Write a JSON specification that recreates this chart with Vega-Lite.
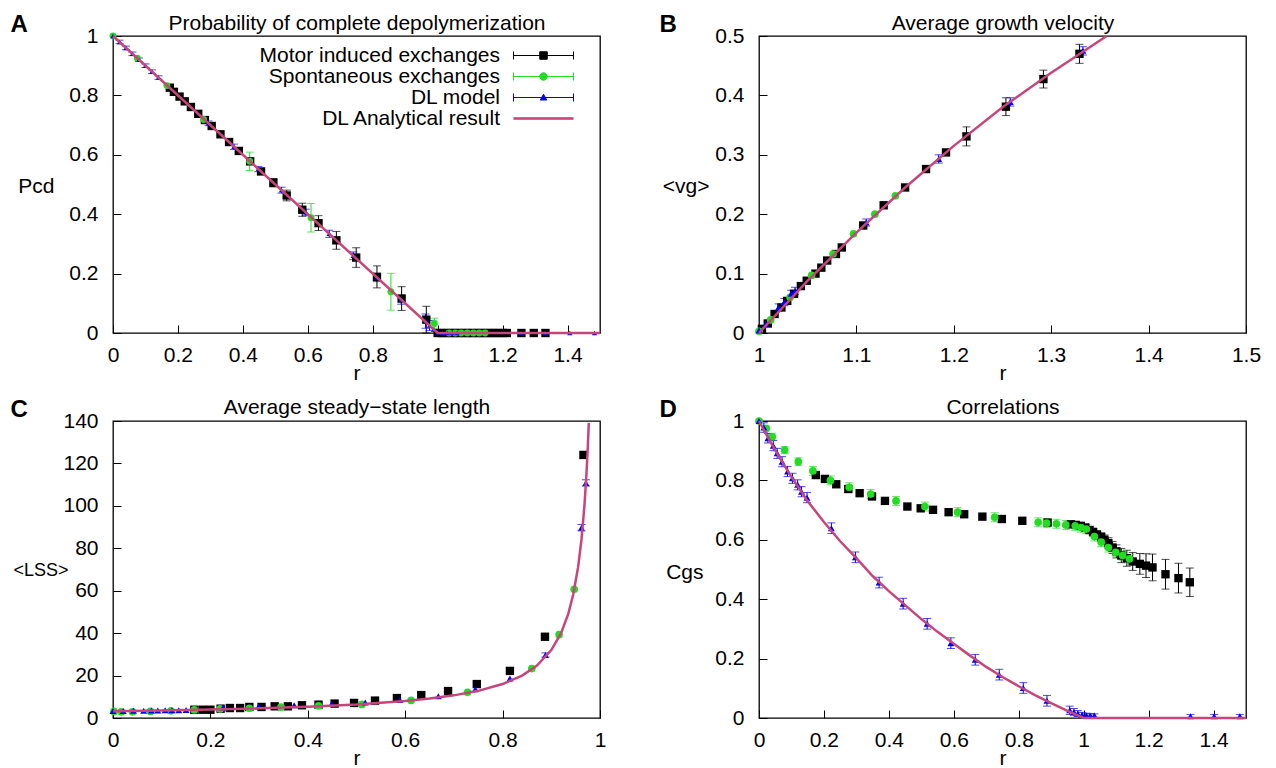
{
 "$schema": "https://vega.github.io/schema/vega-lite/v6.json",
 "padding": {"left": 9, "top": 11, "right": 5, "bottom": 5},
 "background": "white",
 "columns": 2,
 "spacing": {"row": 88, "column": 159},
 "bounds": "flush",
 "resolve": {"scale": {"color": "independent", "shape": "independent", "size": "independent", "fill": "independent", "stroke": "independent", "strokeWidth": "independent", "x": "independent", "y": "independent"}, "legend": {"color": "independent", "shape": "independent", "size": "independent", "fill": "independent", "stroke": "independent", "strokeWidth": "independent"}},
 "datasets": {
  "A": [
   {"s":"M","r":0.175,"v":0.826},{"s":"M","r":0.1875,"v":0.812},{"s":"M","r":0.205,"v":0.796},{"s":"M","r":0.221,"v":0.78},{"s":"M","r":0.24,"v":0.761},{"s":"M","r":0.2625,"v":0.738},{"s":"M","r":0.283,"v":0.717},{"s":"M","r":0.304,"v":0.697},{"s":"M","r":0.331,"v":0.669},{"s":"M","r":0.3575,"v":0.643},{"s":"M","r":0.3875,"v":0.613},{"s":"M","r":0.4225,"v":0.578},
   {"s":"M","r":0.456,"v":0.544,"lo":0.536,"hi":0.552},{"s":"M","r":0.494,"v":0.506,"lo":0.492,"hi":0.52},{"s":"M","r":0.535,"v":0.463,"lo":0.445,"hi":0.481},{"s":"M","r":0.583,"v":0.415,"lo":0.393,"hi":0.437},{"s":"M","r":0.633,"v":0.37,"lo":0.345,"hi":0.395},{"s":"M","r":0.688,"v":0.312,"lo":0.282,"hi":0.342},{"s":"M","r":0.749,"v":0.254,"lo":0.221,"hi":0.287},{"s":"M","r":0.813,"v":0.189,"lo":0.152,"hi":0.226},{"s":"M","r":0.889,"v":0.116,"lo":0.076,"hi":0.156},{"s":"M","r":0.965,"v":0.045,"lo":0.0,"hi":0.09},
   {"s":"M","r":1.0,"v":0},{"s":"M","r":1.013,"v":0},{"s":"M","r":1.026,"v":0},{"s":"M","r":1.04,"v":0},{"s":"M","r":1.053,"v":0},{"s":"M","r":1.066,"v":0},{"s":"M","r":1.08,"v":0},{"s":"M","r":1.093,"v":0},{"s":"M","r":1.106,"v":0},{"s":"M","r":1.12,"v":0},{"s":"M","r":1.133,"v":0},{"s":"M","r":1.146,"v":0},{"s":"M","r":1.16,"v":0},{"s":"M","r":1.173,"v":0},{"s":"M","r":1.186,"v":0},{"s":"M","r":1.2,"v":0},{"s":"M","r":1.213,"v":0},{"s":"M","r":1.258,"v":0},{"s":"M","r":1.296,"v":0},{"s":"M","r":1.332,"v":0},
   {"s":"S","r":0,"v":1},{"s":"S","r":0.075,"v":0.925},{"s":"S","r":0.166,"v":0.833},{"s":"S","r":0.279,"v":0.719},{"s":"S","r":0.421,"v":0.578,"lo":0.547,"hi":0.609},{"s":"S","r":0.61,"v":0.388,"lo":0.34,"hi":0.436},{"s":"S","r":0.856,"v":0.139,"lo":0.077,"hi":0.201},{"s":"S","r":0.99,"v":0.032,"lo":0.014,"hi":0.05},
   {"s":"S","r":1.035,"v":0},{"s":"S","r":1.054,"v":0},{"s":"S","r":1.072,"v":0},{"s":"S","r":1.091,"v":0},{"s":"S","r":1.11,"v":0},{"s":"S","r":1.128,"v":0},{"s":"S","r":1.146,"v":0},
   {"s":"D","r":0,"v":1},{"s":"D","r":0.02,"v":0.98,"lo":0.974,"hi":0.986},{"s":"D","r":0.04,"v":0.96,"lo":0.954,"hi":0.966},{"s":"D","r":0.06,"v":0.94,"lo":0.934,"hi":0.946},{"s":"D","r":0.08,"v":0.92,"lo":0.914,"hi":0.926},{"s":"D","r":0.1,"v":0.9,"lo":0.894,"hi":0.906},{"s":"D","r":0.12,"v":0.88,"lo":0.874,"hi":0.886},{"s":"D","r":0.14,"v":0.86,"lo":0.854,"hi":0.866},
   {"s":"D","r":0.294,"v":0.706,"lo":0.698,"hi":0.714},{"s":"D","r":0.3725,"v":0.627,"lo":0.618,"hi":0.636},{"s":"D","r":0.4475,"v":0.552,"lo":0.543,"hi":0.561},{"s":"D","r":0.519,"v":0.481,"lo":0.471,"hi":0.491},{"s":"D","r":0.594,"v":0.406,"lo":0.395,"hi":0.417},{"s":"D","r":0.666,"v":0.334,"lo":0.322,"hi":0.346},{"s":"D","r":0.74,"v":0.26,"lo":0.247,"hi":0.273},{"s":"D","r":0.8125,"v":0.187,"lo":0.173,"hi":0.201},{"s":"D","r":0.8875,"v":0.112,"lo":0.097,"hi":0.127},{"s":"D","r":0.9625,"v":0.04,"lo":0.016,"hi":0.064},{"s":"D","r":0.975,"v":0.025,"lo":0.008,"hi":0.042},{"s":"D","r":0.9875,"v":0.012},{"s":"D","r":1.0,"v":0.003},
   {"s":"D","r":1.015,"v":0},{"s":"D","r":1.03,"v":0},{"s":"D","r":1.045,"v":0},{"s":"D","r":1.06,"v":0},{"s":"D","r":1.258,"v":0},{"s":"D","r":1.332,"v":0},{"s":"D","r":1.407,"v":0},{"s":"D","r":1.483,"v":0}
  ],
  "Aline": [{"r":0,"v":1},{"r":1,"v":0},{"r":1.5,"v":0}],
  "B": [
   {"s":"M","r":1.003,"v":0.007},{"s":"M","r":1.009,"v":0.016},{"s":"M","r":1.016,"v":0.032},{"s":"M","r":1.023,"v":0.043},{"s":"M","r":1.029,"v":0.054},{"s":"M","r":1.036,"v":0.066},{"s":"M","r":1.043,"v":0.079},{"s":"M","r":1.049,"v":0.088},{"s":"M","r":1.058,"v":0.1},{"s":"M","r":1.064,"v":0.11},{"s":"M","r":1.07,"v":0.122},{"s":"M","r":1.079,"v":0.133},{"s":"M","r":1.085,"v":0.144},{"s":"M","r":1.107,"v":0.181},{"s":"M","r":1.128,"v":0.215},{"s":"M","r":1.15,"v":0.245},{"s":"M","r":1.1715,"v":0.276},{"s":"M","r":1.192,"v":0.304},
   {"s":"M","r":1.213,"v":0.331,"lo":0.315,"hi":0.347},{"s":"M","r":1.2535,"v":0.381,"lo":0.366,"hi":0.396},{"s":"M","r":1.292,"v":0.4275,"lo":0.4125,"hi":0.4425},{"s":"M","r":1.329,"v":0.47,"lo":0.454,"hi":0.486},
   {"s":"S","r":1.0,"v":0.003},{"s":"S","r":1.012,"v":0.022},{"s":"S","r":1.032,"v":0.06},{"s":"S","r":1.054,"v":0.097},{"s":"S","r":1.076,"v":0.133},{"s":"S","r":1.097,"v":0.167},{"s":"S","r":1.119,"v":0.2},{"s":"S","r":1.14,"v":0.231},
   {"s":"D","r":1.0,"v":0.004},{"s":"D","r":1.007,"v":0.015},{"s":"D","r":1.02,"v":0.043,"lo":0.037,"hi":0.049},{"s":"D","r":1.026,"v":0.052,"lo":0.046,"hi":0.058},{"s":"D","r":1.033,"v":0.066,"lo":0.06,"hi":0.072},{"s":"D","r":1.037,"v":0.071,"lo":0.065,"hi":0.077},{"s":"D","r":1.11,"v":0.186,"lo":0.18,"hi":0.192},{"s":"D","r":1.1845,"v":0.293,"lo":0.286,"hi":0.3},{"s":"D","r":1.258,"v":0.389,"lo":0.382,"hi":0.396},{"s":"D","r":1.3326,"v":0.475,"lo":0.468,"hi":0.482}
  ],
  "Bline": [{"r":1,"v":0},{"r":1.05,"v":0.088},{"r":1.1,"v":0.169},{"r":1.15,"v":0.245},{"r":1.2,"v":0.315},{"r":1.25,"v":0.38},{"r":1.3,"v":0.438},{"r":1.357,"v":0.5}],
  "C": [
   {"s":"M","r":0.167,"v":3.9},{"s":"M","r":0.184,"v":3.9},{"s":"M","r":0.2,"v":3.9},{"s":"M","r":0.221,"v":4.4},{"s":"M","r":0.24,"v":4.7},{"s":"M","r":0.261,"v":4.7},{"s":"M","r":0.28,"v":5.2},{"s":"M","r":0.305,"v":5.2},{"s":"M","r":0.332,"v":5.5},{"s":"M","r":0.359,"v":5.5},{"s":"M","r":0.388,"v":6.0},{"s":"M","r":0.422,"v":6.3},{"s":"M","r":0.455,"v":6.8},{"s":"M","r":0.495,"v":7.1},{"s":"M","r":0.538,"v":8.2},{"s":"M","r":0.583,"v":9.4},{"s":"M","r":0.633,"v":10.8},{"s":"M","r":0.688,"v":12.7},{"s":"M","r":0.747,"v":16},{"s":"M","r":0.815,"v":22.2},{"s":"M","r":0.887,"v":38.3},{"s":"M","r":0.966,"v":124},
   {"s":"S","r":0.002,"v":3.1},{"s":"S","r":0.017,"v":2.9},{"s":"S","r":0.04,"v":2.9},{"s":"S","r":0.077,"v":3.1},{"s":"S","r":0.119,"v":3.4},{"s":"S","r":0.167,"v":3.8},{"s":"S","r":0.22,"v":4.3},{"s":"S","r":0.28,"v":4.6},{"s":"S","r":0.345,"v":5.1},{"s":"S","r":0.422,"v":5.7},{"s":"S","r":0.511,"v":6.4},{"s":"S","r":0.612,"v":8.3},{"s":"S","r":0.728,"v":12.1},{"s":"S","r":0.86,"v":23.3},{"s":"S","r":0.916,"v":39.3},{"s":"S","r":0.947,"v":60.7},
   {"s":"D","r":0,"v":3.3},{"s":"D","r":0.021,"v":3.3},{"s":"D","r":0.042,"v":3.4},{"s":"D","r":0.063,"v":3.4},{"s":"D","r":0.079,"v":3.5},{"s":"D","r":0.092,"v":3.5},{"s":"D","r":0.107,"v":3.6},{"s":"D","r":0.121,"v":3.6},{"s":"D","r":0.135,"v":3.7},{"s":"D","r":0.15,"v":3.8},
   {"s":"D","r":0.226,"v":4.9},{"s":"D","r":0.299,"v":5.4},{"s":"D","r":0.372,"v":6.0},{"s":"D","r":0.449,"v":6.6},{"s":"D","r":0.518,"v":7.3},{"s":"D","r":0.589,"v":8.5},{"s":"D","r":0.668,"v":10.3},{"s":"D","r":0.744,"v":13.5},{"s":"D","r":0.815,"v":18.6},{"s":"D","r":0.888,"v":29.7,"lo":28.7,"hi":30.7},{"s":"D","r":0.962,"v":89.7,"lo":88.2,"hi":91.2},{"s":"D","r":0.971,"v":110.8,"lo":109.3,"hi":112.3}
  ],
  "Cline": [{"r":0,"v":3.2},{"r":0.1,"v":3.56},{"r":0.2,"v":4.0},{"r":0.3,"v":4.57},{"r":0.4,"v":5.33},{"r":0.5,"v":6.4},{"r":0.6,"v":8.0},{"r":0.65,"v":9.14},{"r":0.7,"v":10.67},{"r":0.75,"v":12.8},{"r":0.8,"v":16.0},{"r":0.84,"v":20},{"r":0.87,"v":24.6},{"r":0.9,"v":32},{"r":0.92,"v":40},{"r":0.935,"v":49.2},{"r":0.945,"v":58.2},{"r":0.955,"v":71.1},{"r":0.962,"v":84.2},{"r":0.968,"v":100},{"r":0.972,"v":114.3},{"r":0.975,"v":128},{"r":0.977,"v":139.1}],
  "D": [
   {"s":"M","r":0.175,"v":0.818},{"s":"M","r":0.203,"v":0.805},{"s":"M","r":0.238,"v":0.787},{"s":"M","r":0.275,"v":0.771},{"s":"M","r":0.31,"v":0.757},{"s":"M","r":0.348,"v":0.746},{"s":"M","r":0.388,"v":0.731},{"s":"M","r":0.457,"v":0.712},{"s":"M","r":0.498,"v":0.706},{"s":"M","r":0.536,"v":0.701},{"s":"M","r":0.584,"v":0.693},{"s":"M","r":0.632,"v":0.686},{"s":"M","r":0.688,"v":0.678},{"s":"M","r":0.748,"v":0.67},{"s":"M","r":0.811,"v":0.664},{"s":"M","r":0.889,"v":0.658},
   {"s":"M","r":0.961,"v":0.652,"lo":0.642,"hi":0.662},{"s":"M","r":0.976,"v":0.65,"lo":0.64,"hi":0.66},{"s":"M","r":0.991,"v":0.647,"lo":0.637,"hi":0.657},{"s":"M","r":1.005,"v":0.641,"lo":0.629,"hi":0.653},{"s":"M","r":1.018,"v":0.633,"lo":0.621,"hi":0.645},{"s":"M","r":1.029,"v":0.626,"lo":0.613,"hi":0.639},{"s":"M","r":1.041,"v":0.617,"lo":0.603,"hi":0.631},{"s":"M","r":1.054,"v":0.609,"lo":0.594,"hi":0.624},{"s":"M","r":1.064,"v":0.6,"lo":0.584,"hi":0.616},{"s":"M","r":1.076,"v":0.589,"lo":0.571,"hi":0.607},{"s":"M","r":1.089,"v":0.574,"lo":0.554,"hi":0.594},{"s":"M","r":1.101,"v":0.561,"lo":0.539,"hi":0.583},{"s":"M","r":1.116,"v":0.547,"lo":0.523,"hi":0.571},{"s":"M","r":1.133,"v":0.538,"lo":0.511,"hi":0.565},{"s":"M","r":1.151,"v":0.527,"lo":0.497,"hi":0.557},{"s":"M","r":1.173,"v":0.519,"lo":0.484,"hi":0.554},{"s":"M","r":1.192,"v":0.513,"lo":0.473,"hi":0.553},{"s":"M","r":1.212,"v":0.507,"lo":0.462,"hi":0.552},{"s":"M","r":1.252,"v":0.484,"lo":0.434,"hi":0.534},{"s":"M","r":1.292,"v":0.471,"lo":0.421,"hi":0.521},{"s":"M","r":1.327,"v":0.457,"lo":0.409,"hi":0.505},
   {"s":"S","r":0,"v":1.0},{"s":"S","r":0.0225,"v":0.975},{"s":"S","r":0.041,"v":0.947,"lo":0.935,"hi":0.959},{"s":"S","r":0.079,"v":0.902,"lo":0.89,"hi":0.914},{"s":"S","r":0.121,"v":0.863,"lo":0.85,"hi":0.876},{"s":"S","r":0.166,"v":0.832,"lo":0.817,"hi":0.847},{"s":"S","r":0.22,"v":0.8,"lo":0.785,"hi":0.815},{"s":"S","r":0.278,"v":0.777,"lo":0.762,"hi":0.792},{"s":"S","r":0.344,"v":0.754,"lo":0.739,"hi":0.769},{"s":"S","r":0.422,"v":0.731,"lo":0.716,"hi":0.746},{"s":"S","r":0.511,"v":0.712,"lo":0.697,"hi":0.727},{"s":"S","r":0.612,"v":0.693,"lo":0.678,"hi":0.708},{"s":"S","r":0.726,"v":0.676,"lo":0.661,"hi":0.691},{"s":"S","r":0.86,"v":0.659,"lo":0.644,"hi":0.674},{"s":"S","r":0.886,"v":0.656,"lo":0.641,"hi":0.671},{"s":"S","r":0.916,"v":0.654,"lo":0.639,"hi":0.669},{"s":"S","r":0.945,"v":0.65,"lo":0.635,"hi":0.665},{"s":"S","r":0.974,"v":0.647,"lo":0.632,"hi":0.662},{"s":"S","r":0.992,"v":0.641,"lo":0.626,"hi":0.656},{"s":"S","r":1.008,"v":0.636,"lo":0.621,"hi":0.651},{"s":"S","r":1.033,"v":0.611,"lo":0.596,"hi":0.626},{"s":"S","r":1.054,"v":0.592,"lo":0.577,"hi":0.607},{"s":"S","r":1.076,"v":0.574,"lo":0.559,"hi":0.589},{"s":"S","r":1.099,"v":0.558,"lo":0.543,"hi":0.573},{"s":"S","r":1.12,"v":0.547,"lo":0.532,"hi":0.562},{"s":"S","r":1.141,"v":0.536,"lo":0.521,"hi":0.551},
   {"s":"D","r":0,"v":1.0},{"s":"D","r":0.015,"v":0.978,"lo":0.962,"hi":0.994},{"s":"D","r":0.0275,"v":0.942,"lo":0.926,"hi":0.958},{"s":"D","r":0.044,"v":0.917,"lo":0.9,"hi":0.934},{"s":"D","r":0.056,"v":0.891,"lo":0.874,"hi":0.908},{"s":"D","r":0.071,"v":0.863,"lo":0.846,"hi":0.88},{"s":"D","r":0.088,"v":0.83,"lo":0.813,"hi":0.847},{"s":"D","r":0.103,"v":0.807,"lo":0.79,"hi":0.824},{"s":"D","r":0.119,"v":0.785,"lo":0.768,"hi":0.802},{"s":"D","r":0.131,"v":0.762,"lo":0.745,"hi":0.779},{"s":"D","r":0.148,"v":0.742,"lo":0.725,"hi":0.759},
   {"s":"D","r":0.223,"v":0.639,"lo":0.621,"hi":0.657},{"s":"D","r":0.297,"v":0.541,"lo":0.523,"hi":0.559},{"s":"D","r":0.37,"v":0.456,"lo":0.438,"hi":0.474},{"s":"D","r":0.444,"v":0.385,"lo":0.367,"hi":0.403},{"s":"D","r":0.518,"v":0.317,"lo":0.299,"hi":0.335},{"s":"D","r":0.591,"v":0.252,"lo":0.234,"hi":0.27},{"s":"D","r":0.666,"v":0.196,"lo":0.178,"hi":0.214},{"s":"D","r":0.74,"v":0.146,"lo":0.128,"hi":0.164},{"s":"D","r":0.814,"v":0.101,"lo":0.083,"hi":0.119},{"s":"D","r":0.887,"v":0.058,"lo":0.04,"hi":0.076},{"s":"D","r":0.957,"v":0.026,"lo":0.012,"hi":0.04},{"s":"D","r":0.97,"v":0.02,"lo":0.008,"hi":0.032},{"s":"D","r":0.982,"v":0.015,"lo":0.005,"hi":0.025},{"s":"D","r":0.995,"v":0.011,"lo":0.003,"hi":0.019},{"s":"D","r":1.008,"v":0.009,"lo":0.002,"hi":0.016},{"s":"D","r":1.02,"v":0.008,"lo":0.002,"hi":0.014},{"s":"D","r":1.033,"v":0.008,"lo":0.002,"hi":0.014},{"s":"D","r":1.329,"v":0.006,"lo":0.0,"hi":0.012},{"s":"D","r":1.402,"v":0.006,"lo":0.0,"hi":0.012},{"s":"D","r":1.481,"v":0.006,"lo":0.0,"hi":0.012}
  ],
  "Dline": [{"r":0,"v":1},{"r":0.025,"v":0.95},{"r":0.05,"v":0.902},{"r":0.075,"v":0.856},{"r":0.1,"v":0.812},{"r":0.15,"v":0.73},{"r":0.2,"v":0.66},{"r":0.25,"v":0.595},{"r":0.3,"v":0.538},{"r":0.35,"v":0.478},{"r":0.4,"v":0.427},{"r":0.45,"v":0.38},{"r":0.5,"v":0.333},{"r":0.55,"v":0.29},{"r":0.6,"v":0.25},{"r":0.65,"v":0.21},{"r":0.7,"v":0.172},{"r":0.75,"v":0.138},{"r":0.8,"v":0.107},{"r":0.85,"v":0.077},{"r":0.9,"v":0.05},{"r":0.95,"v":0.024},{"r":1.0,"v":0},{"r":1.5,"v":0}]
 },
 "concat": [
  {
   "width": 487, "height": 297,
   "layer": [
    {"data": {"name": "A"}, "transform": [{"filter": "isValid(datum.lo)"}],
     "mark": {"type": "rule", "strokeWidth": 1},
     "encoding": {
      "x": {"field": "r", "type": "quantitative", "scale": {"domain": [0, 1.5], "nice": false, "zero": false}, "axis": {"orient": "bottom", "values": [0, 0.2, 0.4, 0.6, 0.8, 1, 1.2, 1.4], "format": "~g", "title": "r", "titlePadding": -3, "labelPadding": 19}},
      "y": {"field": "lo", "type": "quantitative", "scale": {"domain": [0, 1], "nice": false, "zero": false}, "axis": {"orient": "left", "values": [0, 0.2, 0.4, 0.6, 0.8, 1], "format": "~g", "title": "Pcd", "titleAngle": 0, "titleAlign": "right", "titleBaseline": "middle", "titleX": -59, "titleY": 150, "labelPadding": 23}},
      "y2": {"field": "hi"},
      "color": {"field": "s", "type": "nominal", "scale": {"domain": ["M", "S", "D"], "range": ["#000000", "#22dd22", "#0000ff"]}, "legend": null}
     }},
    {"data": {"name": "A"}, "transform": [{"filter": "isValid(datum.lo)"}, {"fold": ["lo", "hi"], "as": ["b", "e"]}],
     "mark": {"type": "tick", "orient": "horizontal", "size": 8, "thickness": 1},
     "encoding": {
      "x": {"field": "r", "type": "quantitative", "scale": {"domain": [0, 1.5], "nice": false, "zero": false}, "axis": {"orient": "top", "labels": false, "ticks": false, "domain": false, "title": "Probability of complete depolymerization", "titleY": -7, "titleAlign": "center", "titleBaseline": "alphabetic"}},
      "y": {"field": "e", "type": "quantitative", "scale": {"domain": [0, 1], "nice": false, "zero": false}},
      "color": {"field": "s", "type": "nominal", "scale": {"domain": ["M", "S", "D"], "range": ["#000000", "#22dd22", "#0000ff"]}, "legend": null}
     }},
    {"data": {"name": "A"}, "transform": [{"filter": "datum.s==='M'"}],
     "mark": {"type": "point", "filled": true, "opacity": 1, "shape": "square", "size": 70, "color": "#000000"},
     "encoding": {
      "x": {"field": "r", "type": "quantitative", "scale": {"domain": [0, 1.5], "nice": false, "zero": false}, "axis": {"orient": "top", "labels": false, "ticks": false, "domain": false, "title": "A", "titleX": -103, "titleY": -5, "titleAlign": "left", "titleBaseline": "alphabetic", "titleFontWeight": "bold", "titleFontSize": 24}},
      "y": {"field": "v", "type": "quantitative", "scale": {"domain": [0, 1], "nice": false, "zero": false}}
     }},
    {"data": {"name": "A"}, "transform": [{"filter": "datum.s==='S'"}],
     "mark": {"type": "point", "filled": true, "opacity": 1, "shape": "circle", "size": 48, "color": "#22dd22"},
     "encoding": {
      "x": {"field": "r", "type": "quantitative", "scale": {"domain": [0, 1.5], "nice": false, "zero": false}, "axis": null},
      "y": {"field": "v", "type": "quantitative", "scale": {"domain": [0, 1], "nice": false, "zero": false}}
     }},
    {"data": {"name": "A"}, "transform": [{"filter": "datum.s==='D'"}],
     "mark": {"type": "point", "filled": true, "opacity": 1, "shape": "triangle-up", "size": 28, "color": "#0000ff"},
     "encoding": {
      "x": {"field": "r", "type": "quantitative", "scale": {"domain": [0, 1.5], "nice": false, "zero": false}, "axis": null},
      "y": {"field": "v", "type": "quantitative", "scale": {"domain": [0, 1], "nice": false, "zero": false}}
     }},
    {"data": {"name": "Aline"},
     "mark": {"type": "line", "stroke": "#c8457a", "strokeWidth": 2.5},
     "encoding": {
      "x": {"field": "r", "type": "quantitative", "scale": {"domain": [0, 1.5], "nice": false, "zero": false}, "axis": null},
      "y": {"field": "v", "type": "quantitative", "scale": {"domain": [0, 1], "nice": false, "zero": false}}
     }},
    {"data": {"name": "A"}, "transform": [{"filter": "false"}],
     "mark": {"type": "point", "filled": true, "opacity": 1, "size": 100},
     "encoding": {
      "fill": {"field": "s", "type": "nominal", "scale": {"domain": ["M", "S", "D", "L"], "range": ["#000000", "#22dd22", "#0000ff", "#c8457a"]},
       "legend": {"title": null, "orient": "top-right", "offset": 9, "labelFontSize": 21, "labelColor": "#000000", "labelAlign": "right", "labelOffset": -54, "labelLimit": 400, "symbolSize": 100, "rowPadding": -1.5,
        "labelExpr": "datum.label==='M'?'Motor induced exchanges':datum.label==='S'?'Spontaneous exchanges':datum.label==='D'?'DL model':'DL Analytical result'"}},
      "stroke": {"field": "s", "type": "nominal", "scale": {"domain": ["M", "S", "D", "L"], "range": ["#000000", "#22dd22", "#0000ff", "#c8457a"]}},
      "shape": {"field": "s", "type": "nominal", "scale": {"domain": ["M", "S", "D", "L"], "range": [
        "M-6,0H6M-6,-0.8V0.8M6,-0.8V0.8M-0.75,-0.75H0.75V0.75H-0.75ZM9,0",
        "M-6,0H6M-6,-0.8V0.8M6,-0.8V0.8M-0.75,0A0.75,0.75 0 1,0 0.75,0A0.75,0.75 0 1,0 -0.75,0ZM9,0",
        "M-6,0H6M-6,-0.8V0.8M6,-0.8V0.8M0,-0.65L0.65,0.5H-0.65ZM9,0",
        "M-6,-0.16H6M-6,0H6M-6,0.16H6M9,0"]}},
      "strokeWidth": {"field": "s", "type": "ordinal", "scale": {"domain": ["M", "S", "D", "L"], "range": [1, 1, 1, 2.5]}}
     }}
   ]
  },
  {
   "width": 487, "height": 297,
   "layer": [
    {"data": {"name": "B"}, "transform": [{"filter": "isValid(datum.lo)"}],
     "mark": {"type": "rule", "strokeWidth": 1},
     "encoding": {
      "x": {"field": "r", "type": "quantitative", "scale": {"domain": [1, 1.5], "nice": false, "zero": false}, "axis": {"orient": "bottom", "values": [1, 1.1, 1.2, 1.3, 1.4, 1.5], "format": "~g", "title": "r", "titlePadding": -3, "labelPadding": 19}},
      "y": {"field": "lo", "type": "quantitative", "scale": {"domain": [0, 0.5], "nice": false, "zero": false}, "axis": {"orient": "left", "values": [0, 0.1, 0.2, 0.3, 0.4, 0.5], "format": "~g", "title": "<vg>", "titleAngle": 0, "titleAlign": "right", "titleBaseline": "middle", "titleX": -50, "titleY": 150, "labelPadding": 23}},
      "y2": {"field": "hi"},
      "color": {"field": "s", "type": "nominal", "scale": {"domain": ["M", "S", "D"], "range": ["#000000", "#22dd22", "#0000ff"]}, "legend": null}
     }},
    {"data": {"name": "B"}, "transform": [{"filter": "isValid(datum.lo)"}, {"fold": ["lo", "hi"], "as": ["b", "e"]}],
     "mark": {"type": "tick", "orient": "horizontal", "size": 8, "thickness": 1},
     "encoding": {
      "x": {"field": "r", "type": "quantitative", "scale": {"domain": [1, 1.5], "nice": false, "zero": false}, "axis": {"orient": "top", "labels": false, "ticks": false, "domain": false, "title": "Average growth velocity", "titleY": -7, "titleAlign": "center", "titleBaseline": "alphabetic"}},
      "y": {"field": "e", "type": "quantitative", "scale": {"domain": [0, 0.5], "nice": false, "zero": false}},
      "color": {"field": "s", "type": "nominal", "scale": {"domain": ["M", "S", "D"], "range": ["#000000", "#22dd22", "#0000ff"]}, "legend": null}
     }},
    {"data": {"name": "B"},
     "mark": {"type": "point", "filled": true, "opacity": 1},
     "encoding": {
      "x": {"field": "r", "type": "quantitative", "scale": {"domain": [1, 1.5], "nice": false, "zero": false}, "axis": {"orient": "top", "labels": false, "ticks": false, "domain": false, "title": "B", "titleX": -100, "titleY": -5, "titleAlign": "left", "titleBaseline": "alphabetic", "titleFontWeight": "bold", "titleFontSize": 24}},
      "y": {"field": "v", "type": "quantitative", "scale": {"domain": [0, 0.5], "nice": false, "zero": false}},
      "color": {"field": "s", "type": "nominal", "scale": {"domain": ["M", "S", "D"], "range": ["#000000", "#22dd22", "#0000ff"]}, "legend": null},
      "shape": {"field": "s", "type": "nominal", "scale": {"domain": ["M", "S", "D"], "range": ["square", "circle", "triangle-up"]}, "legend": null},
      "size": {"field": "s", "type": "nominal", "scale": {"domain": ["M", "S", "D"], "range": [70, 48, 28]}, "legend": null}
     }},
    {"data": {"name": "Bline"},
     "mark": {"type": "line", "stroke": "#c8457a", "strokeWidth": 2.5},
     "encoding": {
      "x": {"field": "r", "type": "quantitative", "scale": {"domain": [1, 1.5], "nice": false, "zero": false}, "axis": null},
      "y": {"field": "v", "type": "quantitative", "scale": {"domain": [0, 0.5], "nice": false, "zero": false}}
     }}
   ]
  },
  {
   "width": 487, "height": 297,
   "layer": [
    {"data": {"name": "C"}, "transform": [{"filter": "isValid(datum.lo)"}],
     "mark": {"type": "rule", "strokeWidth": 1},
     "encoding": {
      "x": {"field": "r", "type": "quantitative", "scale": {"domain": [0, 1], "nice": false, "zero": false}, "axis": {"orient": "bottom", "values": [0, 0.2, 0.4, 0.6, 0.8, 1], "format": "~g", "title": "r", "titlePadding": -3, "labelPadding": 19}},
      "y": {"field": "lo", "type": "quantitative", "scale": {"domain": [0, 140], "nice": false, "zero": false}, "axis": {"orient": "left", "values": [0, 20, 40, 60, 80, 100, 120, 140], "format": "d", "title": "<LSS>", "titleFontSize": 18, "titleAngle": 0, "titleAlign": "right", "titleBaseline": "middle", "titleX": -45, "titleY": 149, "labelPadding": 23}},
      "y2": {"field": "hi"},
      "color": {"field": "s", "type": "nominal", "scale": {"domain": ["M", "S", "D"], "range": ["#000000", "#22dd22", "#0000ff"]}, "legend": null}
     }},
    {"data": {"name": "C"}, "transform": [{"filter": "isValid(datum.lo)"}, {"fold": ["lo", "hi"], "as": ["b", "e"]}],
     "mark": {"type": "tick", "orient": "horizontal", "size": 8, "thickness": 1},
     "encoding": {
      "x": {"field": "r", "type": "quantitative", "scale": {"domain": [0, 1], "nice": false, "zero": false}, "axis": {"orient": "top", "labels": false, "ticks": false, "domain": false, "title": "Average steady−state length", "titleY": -8, "titleAlign": "center", "titleBaseline": "alphabetic"}},
      "y": {"field": "e", "type": "quantitative", "scale": {"domain": [0, 140], "nice": false, "zero": false}},
      "color": {"field": "s", "type": "nominal", "scale": {"domain": ["M", "S", "D"], "range": ["#000000", "#22dd22", "#0000ff"]}, "legend": null}
     }},
    {"data": {"name": "C"},
     "mark": {"type": "point", "filled": true, "opacity": 1},
     "encoding": {
      "x": {"field": "r", "type": "quantitative", "scale": {"domain": [0, 1], "nice": false, "zero": false}, "axis": {"orient": "top", "labels": false, "ticks": false, "domain": false, "title": "C", "titleX": -103, "titleY": -5, "titleAlign": "left", "titleBaseline": "alphabetic", "titleFontWeight": "bold", "titleFontSize": 24}},
      "y": {"field": "v", "type": "quantitative", "scale": {"domain": [0, 140], "nice": false, "zero": false}},
      "color": {"field": "s", "type": "nominal", "scale": {"domain": ["M", "S", "D"], "range": ["#000000", "#22dd22", "#0000ff"]}, "legend": null},
      "shape": {"field": "s", "type": "nominal", "scale": {"domain": ["M", "S", "D"], "range": ["square", "circle", "triangle-up"]}, "legend": null},
      "size": {"field": "s", "type": "nominal", "scale": {"domain": ["M", "S", "D"], "range": [70, 48, 28]}, "legend": null}
     }},
    {"data": {"name": "Cline"},
     "mark": {"type": "line", "stroke": "#c8457a", "strokeWidth": 2.5},
     "encoding": {
      "x": {"field": "r", "type": "quantitative", "scale": {"domain": [0, 1], "nice": false, "zero": false}, "axis": null},
      "y": {"field": "v", "type": "quantitative", "scale": {"domain": [0, 140], "nice": false, "zero": false}}
     }}
   ]
  },
  {
   "width": 487, "height": 297,
   "layer": [
    {"data": {"name": "D"}, "transform": [{"filter": "isValid(datum.lo)"}],
     "mark": {"type": "rule", "strokeWidth": 1},
     "encoding": {
      "x": {"field": "r", "type": "quantitative", "scale": {"domain": [0, 1.5], "nice": false, "zero": false}, "axis": {"orient": "bottom", "values": [0, 0.2, 0.4, 0.6, 0.8, 1, 1.2, 1.4], "format": "~g", "title": "r", "titlePadding": -3, "labelPadding": 19}},
      "y": {"field": "lo", "type": "quantitative", "scale": {"domain": [0, 1], "nice": false, "zero": false}, "axis": {"orient": "left", "values": [0, 0.2, 0.4, 0.6, 0.8, 1], "format": "~g", "title": "Cgs", "titleAngle": 0, "titleAlign": "right", "titleBaseline": "middle", "titleX": -56, "titleY": 151, "labelPadding": 23}},
      "y2": {"field": "hi"},
      "color": {"field": "s", "type": "nominal", "scale": {"domain": ["M", "S", "D"], "range": ["#000000", "#22dd22", "#0000ff"]}, "legend": null}
     }},
    {"data": {"name": "D"}, "transform": [{"filter": "isValid(datum.lo)"}, {"fold": ["lo", "hi"], "as": ["b", "e"]}],
     "mark": {"type": "tick", "orient": "horizontal", "size": 8, "thickness": 1},
     "encoding": {
      "x": {"field": "r", "type": "quantitative", "scale": {"domain": [0, 1.5], "nice": false, "zero": false}, "axis": {"orient": "top", "labels": false, "ticks": false, "domain": false, "title": "Correlations", "titleY": -8, "titleAlign": "center", "titleBaseline": "alphabetic"}},
      "y": {"field": "e", "type": "quantitative", "scale": {"domain": [0, 1], "nice": false, "zero": false}},
      "color": {"field": "s", "type": "nominal", "scale": {"domain": ["M", "S", "D"], "range": ["#000000", "#22dd22", "#0000ff"]}, "legend": null}
     }},
    {"data": {"name": "D"},
     "mark": {"type": "point", "filled": true, "opacity": 1},
     "encoding": {
      "x": {"field": "r", "type": "quantitative", "scale": {"domain": [0, 1.5], "nice": false, "zero": false}, "axis": {"orient": "top", "labels": false, "ticks": false, "domain": false, "title": "D", "titleX": -100, "titleY": -5, "titleAlign": "left", "titleBaseline": "alphabetic", "titleFontWeight": "bold", "titleFontSize": 24}},
      "y": {"field": "v", "type": "quantitative", "scale": {"domain": [0, 1], "nice": false, "zero": false}},
      "color": {"field": "s", "type": "nominal", "scale": {"domain": ["M", "S", "D"], "range": ["#000000", "#22dd22", "#0000ff"]}, "legend": null},
      "shape": {"field": "s", "type": "nominal", "scale": {"domain": ["M", "S", "D"], "range": ["square", "circle", "triangle-up"]}, "legend": null},
      "size": {"field": "s", "type": "nominal", "scale": {"domain": ["M", "S", "D"], "range": [70, 48, 28]}, "legend": null}
     }},
    {"data": {"name": "Dline"},
     "mark": {"type": "line", "stroke": "#c8457a", "strokeWidth": 2.5},
     "encoding": {
      "x": {"field": "r", "type": "quantitative", "scale": {"domain": [0, 1.5], "nice": false, "zero": false}, "axis": null},
      "y": {"field": "v", "type": "quantitative", "scale": {"domain": [0, 1], "nice": false, "zero": false}}
     }}
   ]
  }
 ],
 "config": {
  "font": "Liberation Sans",
  "view": {"stroke": "#000000", "strokeWidth": 1.3},
  "axis": {"labelFont": "Liberation Sans", "titleFont": "Liberation Sans", "labelFontSize": 21, "titleFontSize": 21, "titleFontWeight": "normal", "labelColor": "#000000", "titleColor": "#000000", "tickColor": "#000000", "tickSize": -8, "tickWidth": 1, "domain": false, "grid": false, "labelPadding": 4, "labelFlush": false, "labelOverlap": false},
  "legend": {"labelFont": "Liberation Sans"}
 }
}
